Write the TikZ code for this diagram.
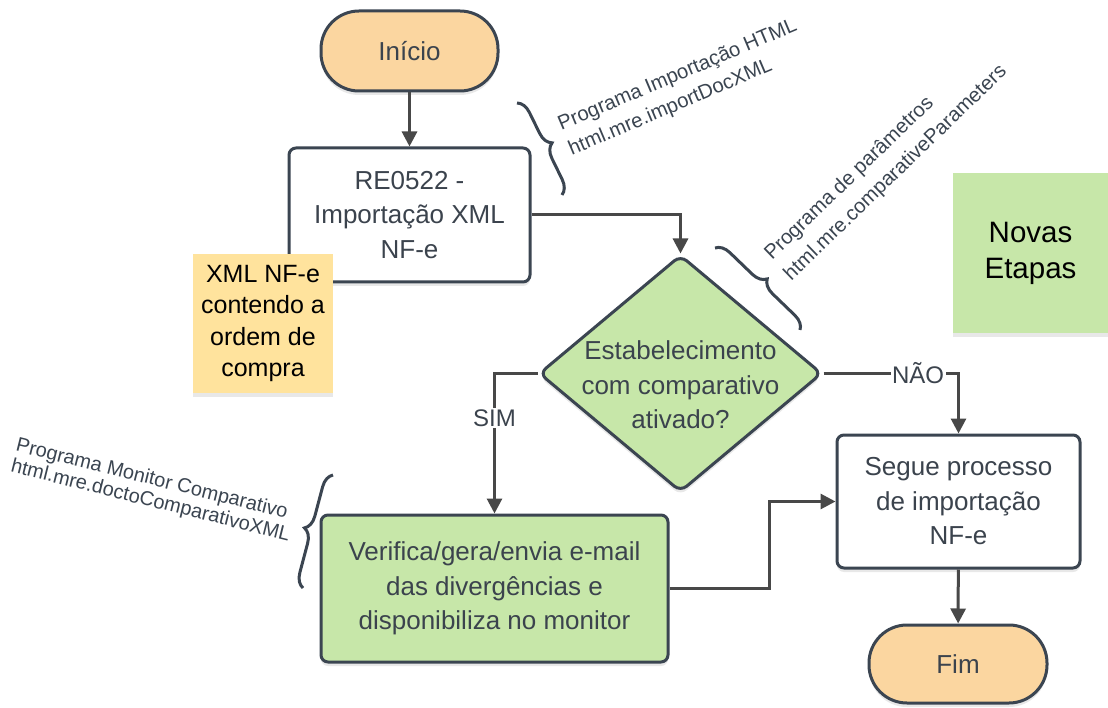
\documentclass[tikz,border=0pt]{standalone}
\usepackage{fontspec}
\setmainfont{Liberation Sans}
\usetikzlibrary{arrows.meta,shapes.geometric,shadows,decorations.pathreplacing}
\definecolor{bord}{RGB}{59,69,81}
\definecolor{txt}{RGB}{59,67,77}
\definecolor{connc}{RGB}{72,72,72}
\definecolor{orangef}{RGB}{251,214,160}
\definecolor{greenf}{RGB}{199,231,169}
\definecolor{yellowf}{RGB}{255,227,157}
\begin{document}
\begin{tikzpicture}[x=1pt,y=-1pt,
  every node/.style={text=txt},
  mainfont/.style={font=\fontsize{26}{34.5}\selectfont},
  shadowed/.style={drop shadow={opacity=0.18, shadow xshift=0pt, shadow yshift=-4pt}},
  basebox/.style={draw=bord, line width=3pt, align=center, mainfont, shadowed, inner sep=0pt},
  terminal/.style={basebox, fill=orangef, rounded corners=38pt},
  procbox/.style={basebox, rounded corners=7pt},
  conn/.style={draw=connc, line width=3pt, -{Triangle[length=15pt,width=15pt]}},
  lbl/.style={fill=white, inner sep=1.5pt, text=txt, font=\fontsize{24}{28}\selectfont},
  brc/.style={draw=bord, line width=3pt, decorate, decoration={brace, amplitude=14pt}},
  annot/.style={align=left, text=bord, inner sep=0pt},
  stickynote/.style={text=black, align=center, inner sep=0pt, shadowed},
]
\useasboundingbox[fill=white] (0,0) rectangle (1108,708);

% main nodes
\node[terminal, minimum width=177pt, minimum height=80pt] (start) at (409.5,51) {Início};
\node[procbox, fill=white, minimum width=241pt, minimum height=134pt] (re) at (409.5,215)
  {RE0522 -\\Importação XML\\NF-e};
\node[stickynote, fill=yellowf, minimum width=140pt, minimum height=139pt,
  font=\fontsize{25}{31.3}\selectfont] (note) at (263,323.5)
  {XML NF-e\\contendo a\\ordem de\\compra};
\node[draw=bord, line width=3pt, fill=greenf, diamond, rounded corners=8pt, inner sep=0pt,
  minimum width=283pt, minimum height=237pt, shadowed] (dia) at (680.5,373.5) {};
\node[align=center, mainfont, inner sep=0pt] (diatext) at (680.5,385)
  {Estabelecimento\\com comparativo\\ativado?};
\node[procbox, fill=greenf, minimum width=347pt, minimum height=147pt] (green) at (494.5,588.5)
  {Verifica/gera/envia e-mail\\das divergências e\\disponibiliza no monitor};
\node[procbox, fill=white, minimum width=243pt, minimum height=133pt] (segue) at (958.5,501.5)
  {Segue processo\\de importação\\NF-e};
\node[terminal, minimum width=178pt, minimum height=78pt] (fim) at (958,664) {Fim};
\node[stickynote, fill=greenf, minimum width=155pt, minimum height=160pt,
  font=\fontsize{29.5}{36}\selectfont] (novas) at (1030.5,253) {Novas\\Etapas};

% connectors
\draw[conn] (start) -- (re);
\draw[conn] (re.east) -| (dia.north);
\draw[conn] (dia.west) -| node[lbl, pos=0.66] (sim) {SIM} (green.north);
\draw[conn] (dia.east) -| node[lbl, pos=0.35] (nao) {NÃO} (segue.north);
\draw[conn] (green.east) -- ++(100,0) |- (segue.west);
\draw[conn] (segue) -- (fim);

% braces and annotations
\draw[brc] (517,103) -- (562,195);
\node[annot, rotate=23, font=\fontsize{20.3}{27}\selectfont] (ann1) at (683,88)
  {Programa Importação HTML\\html.mre.importDocXML};
\draw[brc] (715,248) -- (800,330);
\node[annot, rotate=44, font=\fontsize{20.3}{28}\selectfont] (ann2) at (886,163)
  {Programa de parâmetros\\html.mre.comparativeParameters};
\draw[brc] (303,588) -- (333,475);
\node[annot, rotate=-14, font=\fontsize{20}{21.5}\selectfont] (ann3) at (153,491)
  {Programa Monitor Comparativo\\html.mre.doctoComparativoXML};
\end{tikzpicture}
\end{document}
